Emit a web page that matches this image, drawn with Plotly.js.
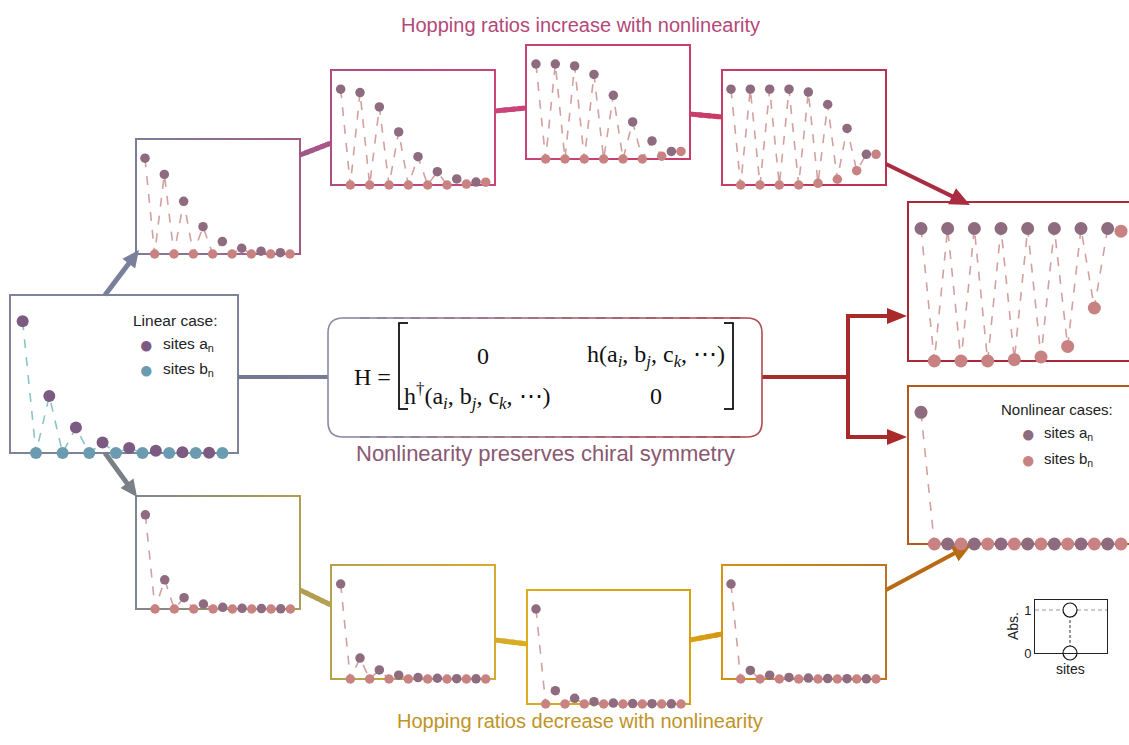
<!DOCTYPE html>
<html>
<head>
<meta charset="utf-8">
<script src="https://cdn.plot.ly/plotly-3.0.1.min.js"></script>
<style>html,body{margin:0;padding:0;background:#fff;}#chart{width:1129px;height:745px;}</style>
</head>
<body>
<div id="chart"></div>
<script>
// ---------------- data ----------------
const siteA = [0, 2, 4, 6, 8, 10, 12, 14];
const siteB = [1, 3, 5, 7, 9, 11, 13, 15];

const linA  = [1, 0.433, 0.194, 0.08, 0.038, 0.017, 0.006, 0.002];
const linB  = [0, 0, 0, 0, 0, 0, 0, 0];

const inc1A = [1, 0.83, 0.55, 0.285, 0.13, 0.06, 0.03, 0.014];
const inc1B = [0, 0, 0, 0, 0, 0, 0, 0];
const inc2A = [1, 0.965, 0.815, 0.554, 0.296, 0.139, 0.063, 0.031];
const inc2B = [0, 0, 0, 0, 0, 0, 0.01, 0.03];
const inc3A = [1, 1, 0.98, 0.89, 0.67, 0.39, 0.19, 0.08];
const inc3B = [0, 0, 0, 0, 0, 0, 0.03, 0.08];
const inc4A = [1, 1, 1, 1, 0.97, 0.84, 0.59, 0.32];
const inc4B = [0, 0, 0, 0, 0.017, 0.06, 0.15, 0.32];
const strongA = [1, 1, 1, 1, 1, 1, 1, 1];
const strongB = [0, 0, 0, 0.01, 0.03, 0.11, 0.40, 0.98];

const dec1A = [1, 0.31, 0.12, 0.053, 0.018, 0.007, 0.004, 0.002];
const dec1B = [0, 0, 0, 0, 0, 0, 0, 0];
const dec2A = [1, 0.22, 0.095, 0.04, 0.015, 0.008, 0.003, 0.002];
const dec2B = [0, 0, 0, 0, 0, 0, 0, 0];
const dec3A = [1, 0.14, 0.06, 0.025, 0.01, 0.005, 0.003, 0.002];
const dec3B = [0, 0, 0, 0, 0, 0, 0, 0];
const dec4A = [1, 0.09, 0.04, 0.017, 0.01, 0.005, 0.003, 0.002];
const dec4B = [0, 0, 0, 0, 0, 0, 0, 0];
const weakA = [1, 0, 0, 0, 0, 0, 0, 0];
const weakB = [0, 0, 0, 0, 0, 0, 0, 0];

const insetSite = [0, 0];
const insetAbs = [0, 1];
const insetRefX = [-35, 37];
const insetRefY = [1, 1];

// ---------------- helpers ----------------
const W = 1129, H = 745;
const X = p => p / W;
const Y = p => 1 - p / H;
function hex2rgb(h){h=h.replace('#','');return [parseInt(h.substr(0,2),16),parseInt(h.substr(2,2),16),parseInt(h.substr(4,2),16)];}
function lerpC(c0,c1,t){const a=hex2rgb(c0),b=hex2rgb(c1);return 'rgb('+a.map((v,i)=>Math.round(v+(b[i]-v)*t)).join(',')+')';}

const shapes = [];
function seg(x0,y0,x1,y1,color,w,dash){
  shapes.push({type:'line',xref:'paper',yref:'paper',x0:X(x0),y0:Y(y0),x1:X(x1),y1:Y(y1),
    line:{color:color,width:w,dash:dash||'solid'},layer:'below'});
}
function gradLine(x0,y0,x1,y1,c0,c1,w,n){
  n = n||20;
  for(let k=0;k<n;k++){
    const t0=k/n,t1=(k+1)/n;
    const ex = k<n-1 ? 0.6/n : 0;
    seg(x0+(x1-x0)*t0,y0+(y1-y0)*t0,x0+(x1-x0)*Math.min(1,t1+ex),y0+(y1-y0)*Math.min(1,t1+ex),lerpC(c0,c1,(t0+t1)/2),w);
  }
}
function frame(b,c0,c1,w){
  const [x0,y0,x1,y1]=b;
  seg(x0,y0-w/2,x0,y1+w/2,c0,w);
  seg(x1,y0-w/2,x1,y1+w/2,c1,w);
  gradLine(x0,y0,x1,y0,c0,c1,w);
  gradLine(x0,y1,x1,y1,c0,c1,w);
}
function arrow(xs,ys,xe,ye,color,w,hl,hw){
  hl=hl||17; hw=hw||8;
  const dx=xe-xs, dy=ye-ys, L=Math.hypot(dx,dy), ux=dx/L, uy=dy/L, px=-uy, py=ux;
  const bx=xe-ux*hl, by=ye-uy*hl;
  seg(xs,ys,xe-ux*hl*0.7,ye-uy*hl*0.7,color,w);
  shapes.push({type:'path',xref:'paper',yref:'paper',layer:'below',
    path:`M ${X(xe)},${Y(ye)} L ${X(bx+px*hw)},${Y(by+py*hw)} L ${X(bx-px*hw)},${Y(by-py*hw)} Z`,
    fillcolor:color,line:{width:0}});
}

// ---------------- panels ----------------
const NL_A = '#8f6b7f', NL_B = '#c98282', NL_L = '#d3a0a0';
const panels = [
  {box:[10,295,238,453], xr:[-0.95,16.17], A:linA,   B:linB,   ms:12, ca:'#7b5b82', cb:'#6b9bb0', cl:'#8cc4c4', f0:'#7d8499', f1:'#7d8499'},
  {box:[136,139,300,254], xr:[-0.93,16.03], A:inc1A, B:inc1B, ms:9.5, f0:'#7c7d9c', f1:'#a45a86'},
  {box:[331,70,495,185],  xr:[-1.0,15.96],  A:inc2A, B:inc2B, ms:9.5, f0:'#b04c84', f1:'#c8457a'},
  {box:[526,45,690,159],  xr:[-1.03,15.93], A:inc3A, B:inc3B, ms:9.5, f0:'#c8437a', f1:'#c83d6c'},
  {box:[722,70,886,185],  xr:[-0.93,16.03], A:inc4A, B:inc4B, ms:9.5, f0:'#c83c68', f1:'#b8324e'},
  {box:[908,202,1129,361],xr:[-0.975,15.6], A:strongA, B:strongB, ms:13, f0:'#a82a3a', f1:'#a82a3a', open:true},
  {box:[908,386,1129,544],xr:[-0.975,15.6], A:weakA, B:weakB, ms:13, f0:'#b05a1e', f1:'#b05a1e', open:true},
  {box:[136,496,300,609], xr:[-0.97,15.99], A:dec1A, B:dec1B, ms:9.5, f0:'#80868e', f1:'#ae9e52'},
  {box:[331,565,495,679], xr:[-1.0,15.96],  A:dec2A, B:dec2B, ms:9.5, f0:'#b4a24e', f1:'#d6aa30'},
  {box:[527,590,690,704], xr:[-0.93,15.93], A:dec3A, B:dec3B, ms:9.5, f0:'#dcac1c', f1:'#d8a012'},
  {box:[722,565,886,679], xr:[-0.93,16.03], A:dec4A, B:dec4B, ms:9.5, f0:'#d49412', f1:'#bc7220'}
];

const traces = [];
const layout = {
  width: W, height: H, margin:{l:0,r:0,t:0,b:0},
  paper_bgcolor:'#ffffff', plot_bgcolor:'rgba(0,0,0,0)', showlegend:false,
  font:{family:'Liberation Sans, Arial, sans-serif', color:'#222'}
};

panels.forEach((p,i)=>{
  const s = i===0 ? '' : String(i+1);
  const [x0,y0,x1,y1] = p.box;
  const yr = [0, 1.2];
  layout['xaxis'+s] = {domain:[X(x0),X(x1)], range:p.xr, visible:false, fixedrange:true, anchor:'y'+s};
  layout['yaxis'+s] = {domain:[Y(y1),Y(y0)], range:yr, visible:false, fixedrange:true, anchor:'x'+s};
  const xs=[], ys=[];
  for(let k=0;k<siteA.length;k++){xs.push(siteA[k]);ys.push(p.A[k]);xs.push(siteB[k]);ys.push(p.B[k]);}
  const ax='x'+s, ay='y'+s;
  traces.push({type:'scatter',mode:'lines',x:xs,y:ys,xaxis:ax,yaxis:ay,cliponaxis:false,
    line:{color:p.cl||NL_L,width:1.6,dash:'dash'},hoverinfo:'skip'});
  traces.push({type:'scatter',mode:'markers',x:siteA,y:p.A,xaxis:ax,yaxis:ay,cliponaxis:false,
    marker:{size:p.ms,color:p.ca||NL_A,line:{width:0}}});
  traces.push({type:'scatter',mode:'markers',x:siteB,y:p.B,xaxis:ax,yaxis:ay,cliponaxis:false,
    marker:{size:p.ms,color:p.cb||NL_B,line:{width:0}}});
  frame(p.open ? [x0,y0,1140,y1] : p.box, p.f0, p.f1, 2);
});

// inset (axis 12)
layout.xaxis12 = {domain:[X(1035),X(1107)], range:[-35,37], anchor:'y12', showline:true, mirror:true, linecolor:'#222', linewidth:1,
  showgrid:false, zeroline:false, showticklabels:false, ticks:'', fixedrange:true};
layout.yaxis12 = {domain:[Y(653),Y(600)], range:[0,1.233], anchor:'x12', showline:true, mirror:true, linecolor:'#222', linewidth:1,
  showgrid:false, zeroline:false, tickvals:[0,1], ticktext:['0','1'], ticks:'', tickfont:{size:13,color:'#222'}, fixedrange:true};
traces.push({type:'scatter',mode:'lines',x:insetRefX,y:insetRefY,xaxis:'x12',yaxis:'y12',
  line:{color:'#999',width:1,dash:'4px,3px'},hoverinfo:'skip'});
traces.push({type:'scatter',mode:'lines',x:insetSite,y:insetAbs,xaxis:'x12',yaxis:'y12',
  line:{color:'#333',width:1,dash:'3px,2px'},hoverinfo:'skip'});
traces.push({type:'scatter',mode:'markers',x:insetSite,y:insetAbs,xaxis:'x12',yaxis:'y12',cliponaxis:false,
  marker:{size:14,color:'#fff',line:{color:'#111',width:1.2}}});

// ---------------- connectors ----------------
arrow(105,295,139,250,'#7a7f9c',5,17,8);
arrow(105,453,137,497,'#7a8088',5,17,8);
gradLine(300,155,331,143,'#9a5a88','#ac5286',5,6);
gradLine(495,111,526,108,'#c8457a','#c8437a',5,4);
gradLine(690,114,722,117,'#c83d6c','#c83c68',5,4);
arrow(886,164,970,205,'#aa2c42',4,20,9);
gradLine(238,377,328,377,'#737893','#767a94',4,4);
seg(762,377,850,377,'#a82a2a',4);
seg(848,314,848,439,'#a82a2a',4);
arrow(846,316,907,316,'#a82a2a',4,20,8);
arrow(846,437,907,437,'#a82a2a',4,20,8);
gradLine(300,590,331,605,'#ae9e52','#b4a24e',5,6);
gradLine(495,640,527,644,'#d6aa30','#dcac1c',5,4);
gradLine(690,640,722,634,'#d8a012','#d49412',5,4);
arrow(886,590,972,544,'#b86a14',4,20,9);

// matrix rounded box
(function(){
  const x0=328,y0=318,x1=762,y1=437,r=15, c0='#8a8aa2', c1='#b04a52', w=1.6;
  shapes.push({type:'path',xref:'paper',yref:'paper',layer:'below',line:{color:c0,width:w},
    path:`M ${X(x0+r)},${Y(y0)} Q ${X(x0)},${Y(y0)} ${X(x0)},${Y(y0+r)} L ${X(x0)},${Y(y1-r)} Q ${X(x0)},${Y(y1)} ${X(x0+r)},${Y(y1)}`});
  shapes.push({type:'path',xref:'paper',yref:'paper',layer:'below',line:{color:c1,width:w},
    path:`M ${X(x1-r)},${Y(y0)} Q ${X(x1)},${Y(y0)} ${X(x1)},${Y(y0+r)} L ${X(x1)},${Y(y1-r)} Q ${X(x1)},${Y(y1)} ${X(x1-r)},${Y(y1)}`});
  gradLine(x0+r,y0,x1-r,y0,c0,c1,w,24);
  gradLine(x0+r,y1,x1-r,y1,c0,c1,w,24);
  // brackets
  const bc='#111', bw=1.8;
  seg(399,323,399,409,bc,bw); seg(398.2,323,408,323,bc,bw); seg(398.2,409,408,409,bc,bw);
  seg(733,323,733,409,bc,bw); seg(724,323,733.8,323,bc,bw); seg(724,409,733.8,409,bc,bw);
})();
layout.shapes = shapes;

// ---------------- text ----------------
const ann = [];
function txt(x,y,text,size,color,opts){
  ann.push(Object.assign({xref:'paper',yref:'paper',x:X(x),y:Y(y),text:text,showarrow:false,
    xanchor:'center',yanchor:'middle',font:{size:size,color:color||'#222'}},opts||{}));
}
const serif = {family:'Liberation Serif, DejaVu Serif, serif'};
const sf = (sz)=>Object.assign({size:sz,color:'#111'},serif);
txt(580,25,'Hopping ratios increase with nonlinearity',20,'#b44878');
txt(580,721,'Hopping ratios decrease with nonlinearity',20,'#bf9326');
txt(545,453,'Nonlinearity preserves chiral symmetry',22,'#8a5872');
txt(372,377,'H =',24,'#111',{font:sf(24)});
txt(483,356,'0',24,'#111',{font:sf(24)});
txt(656,356,'h(a<sub><i>i</i></sub>, b<sub><i>j</i></sub>, c<sub><i>k</i></sub>, ⋯)',24,'#111',{font:sf(24)});
txt(478,396,'h<sup>†</sup>(a<sub><i>i</i></sub>, b<sub><i>j</i></sub>, c<sub><i>k</i></sub>, ⋯)',24,'#111',{font:sf(24)});
txt(656,396,'0',24,'#111',{font:sf(24)});
// legends
txt(175,320,'Linear case:',15.5,'#222');
txt(146,344,'●',24,'#7b5b82');
txt(146,369,'●',24,'#6b9bb0');
txt(161,344,'sites a<sub>n</sub>',15.5,'#222',{xanchor:'left'});
txt(161,369,'sites b<sub>n</sub>',15.5,'#222',{xanchor:'left'});
txt(1057,409,'Nonlinear cases:',15,'#222');
txt(1028,434,'●',24,NL_A);
txt(1028,459,'●',24,NL_B);
txt(1042,434,'sites a<sub>n</sub>',15,'#222',{xanchor:'left'});
txt(1042,459,'sites b<sub>n</sub>',15,'#222',{xanchor:'left'});
// inset labels
txt(1070,669,'sites',14,'#222');
txt(1013,626,'Abs.',14,'#222',{textangle:-90});
layout.annotations = ann;

Plotly.newPlot('chart', traces, layout, {staticPlot:true, displayModeBar:false});
</script>
</body>
</html>
